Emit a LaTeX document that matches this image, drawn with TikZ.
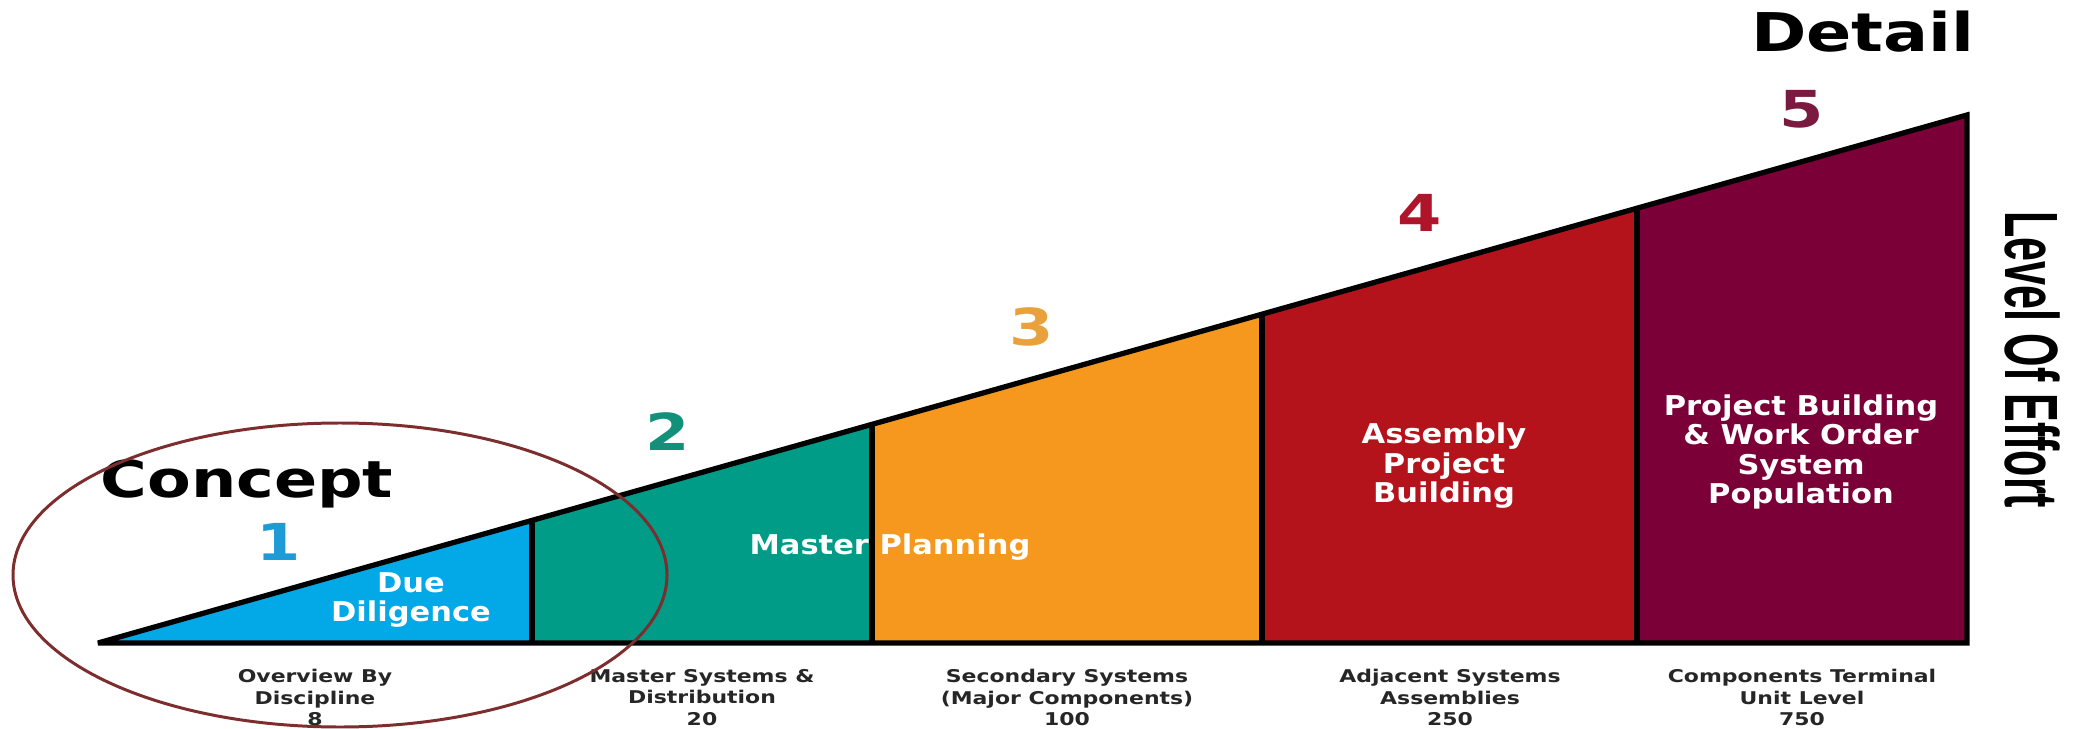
\documentclass[tikz,border=0pt]{standalone}
\usepackage{fontspec}
\usetikzlibrary{positioning}
\newfontfamily\widesans[FakeStretch=1.25]{DejaVu Sans}
\newfontfamily\segsans[FakeStretch=1.12]{DejaVu Sans}
\newfontfamily\narrowsans[FakeStretch=0.57]{Liberation Sans}
\definecolor{DDBlue}{HTML}{03A8E6}
\definecolor{MPTeal}{HTML}{009C87}
\definecolor{SSOrange}{HTML}{F6981E}
\definecolor{ASRed}{HTML}{B5131C}
\definecolor{CTMaroon}{HTML}{7B0038}
\definecolor{NumBlue}{HTML}{1E9BD7}
\definecolor{NumTeal}{HTML}{11907A}
\definecolor{NumOrange}{HTML}{E9A23B}
\definecolor{NumRed}{HTML}{B0142A}
\definecolor{NumMaroon}{HTML}{7A1A40}
\definecolor{RingBrown}{HTML}{7D2D2D}

\begin{document}
\begin{tikzpicture}[
  x=0.02cm, y=-0.02cm,
  outline/.style={draw=black, line width=3pt, miter limit=2},
  headlabel/.style={anchor=base, inner sep=0pt, font=\widesans\bfseries\fontsize{29}{29}\selectfont},
  steplabel/.style={anchor=base, inner sep=0pt, font=\widesans\bfseries\fontsize{29}{29}\selectfont},
  seglabel/.style={text=white, align=center, inner sep=0pt, font=\segsans\bfseries\fontsize{15.5}{16.8}\selectfont},
  levellabel/.style={anchor=north, align=center, text=black!85, inner sep=0pt, font=\widesans\bfseries\fontsize{10}{12.2}\selectfont}
]
\useasboundingbox (0,0) rectangle (2078,729);

% corners of the wedge
\coordinate (apex) at (98,643);
\coordinate (t1) at (532,520.4);  \coordinate (b1) at (532,643);
\coordinate (t2) at (872,424.3);  \coordinate (b2) at (872,643);
\coordinate (t3) at (1262,314.2); \coordinate (b3) at (1262,643);
\coordinate (t4) at (1637,208.2); \coordinate (b4) at (1637,643);
\coordinate (t5) at (1967,115);   \coordinate (b5) at (1967,643);

% coloured bands
\fill[DDBlue] (apex) -- (t1) -- (b1) -- cycle;
\fill[MPTeal] (b1) -- (t1) -- (t2) -- (b2) -- cycle;
\fill[SSOrange] (b2) -- (t2) -- (t3) -- (b3) -- cycle;
\fill[ASRed] (b3) -- (t3) -- (t4) -- (b4) -- cycle;
\fill[CTMaroon] (b4) -- (t4) -- (t5) -- (b5) -- cycle;

\draw[outline] (apex) -- (t5) -- (b5) -- cycle;
\foreach \i in {1,...,4}
  \draw[outline] (t\i) -- (b\i);

% band texts
\node[seglabel] (due) at (411,600) {Due\\Diligence};
\node[seglabel] (master) at (890,547) {Master Planning};
\node[seglabel] (assembly) at (1444,466) {Assembly\\Project\\Building};
\node[seglabel] (population) at (1801,452) {Project Building\\\& Work Order\\System\\Population};

% step numbers
\node[steplabel, text=NumBlue] (one) at (279,560) {1};
\node[steplabel, text=NumTeal] (two) at (668,450) {2};
\node[steplabel, text=NumOrange] (three) at (1032,345) {3};
\node[steplabel, text=NumRed] (four) at (1420,232) {4};
\node[steplabel, text=NumMaroon] (five) at (1802,128) {5};

\node[headlabel] (concept) at (247,497) {Concept};
\node[headlabel, font=\widesans\bfseries\fontsize{30.4}{30.4}\selectfont] (detail) at (1863,52) {Detail};
\node[rotate=-90, inner sep=0pt, font=\narrowsans\bfseries\fontsize{43}{43}\selectfont] (effort) at (2032,360) {Level Of Effort};

% level of detail under each band
\node[levellabel] (overview) at (315,669) {Overview By\\Discipline\\8};
\node[levellabel] (distribution) at (702,669) {Master Systems \&\\Distribution\\20};
\node[levellabel] (secondary) at (1067,669) {Secondary Systems\\(Major Components)\\100};
\node[levellabel] (adjacent) at (1450,669) {Adjacent Systems\\Assemblies\\250};
\node[levellabel] (terminal) at (1802,669) {Components Terminal\\Unit Level\\750};

\draw[RingBrown, line width=1.7pt] (340,575) ellipse [x radius=327, y radius=152];
\end{tikzpicture}
\end{document}
